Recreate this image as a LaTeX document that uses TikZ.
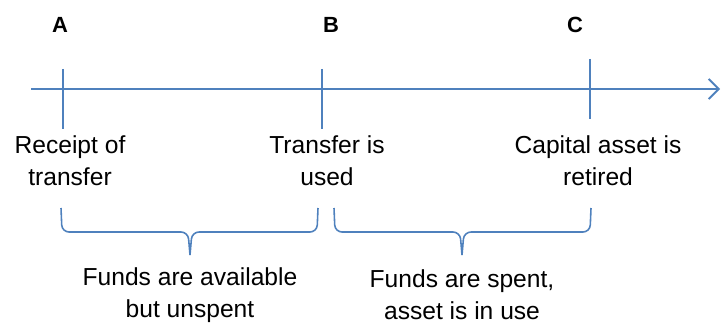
\documentclass[tikz,border=0pt]{standalone}
\usepackage{fontspec}
\setmainfont{Liberation Sans}
\usetikzlibrary{arrows.meta}
\definecolor{axisblue}{RGB}{79,129,189}

\tikzset{
  pointlabel/.style={font=\fontsize{12.5}{14}\selectfont\bfseries},
  eventtext/.style={align=center,font=\fontsize{14}{18.2}\selectfont},
  tick/.style={axisblue,line width=1.1pt},
  bracket/.style={axisblue,line width=0.9pt,rounded corners=4}
}

\begin{document}
\begin{tikzpicture}[x=0.02cm,y=-0.02cm]
\useasboundingbox (0,0) rectangle (722,324);

% points in time
\node[pointlabel] (A) at (60,25) {A};
\node[pointlabel] (B) at (331,25) {B};
\node[pointlabel] (C) at (575,25) {C};

\coordinate (start) at (31,89);
\coordinate (end) at (720,89);
\draw[tick,-{Straight Barb[length=0.2cm,width=0.4cm]}] (start) -- (end);

\coordinate (A1) at (63,69);  \coordinate (A2) at (63,129);
\coordinate (B1) at (322,69); \coordinate (B2) at (322,129);
\coordinate (C1) at (590,59); \coordinate (C2) at (590,119);
\draw[tick] (A1) -- (A2);
\draw[tick] (B1) -- (B2);
\draw[tick] (C1) -- (C2);

\node[eventtext] (a) at (70,161) {Receipt of\\transfer};
\node[eventtext] (b) at (327,161) {Transfer is\\used};
\node[eventtext] (c) at (598,161) {Capital asset is\\retired};

% braces
\draw[bracket] (61,208) -- (62,232) -- (188,232) -- (190,255);
\draw[bracket] (190,255) -- (192,232) -- (317,232) -- (318,208);
\draw[bracket] (334,208) -- (335,232) -- (460,232) -- (462,255);
\draw[bracket] (462,255) -- (464,232) -- (590,232) -- (591,208);

\node[eventtext] (ab) at (190,295) {Funds are available\\but unspent};
\node[eventtext] (bc) at (462,295) {Funds are spent,\\asset is in use};
\end{tikzpicture}
\end{document}
